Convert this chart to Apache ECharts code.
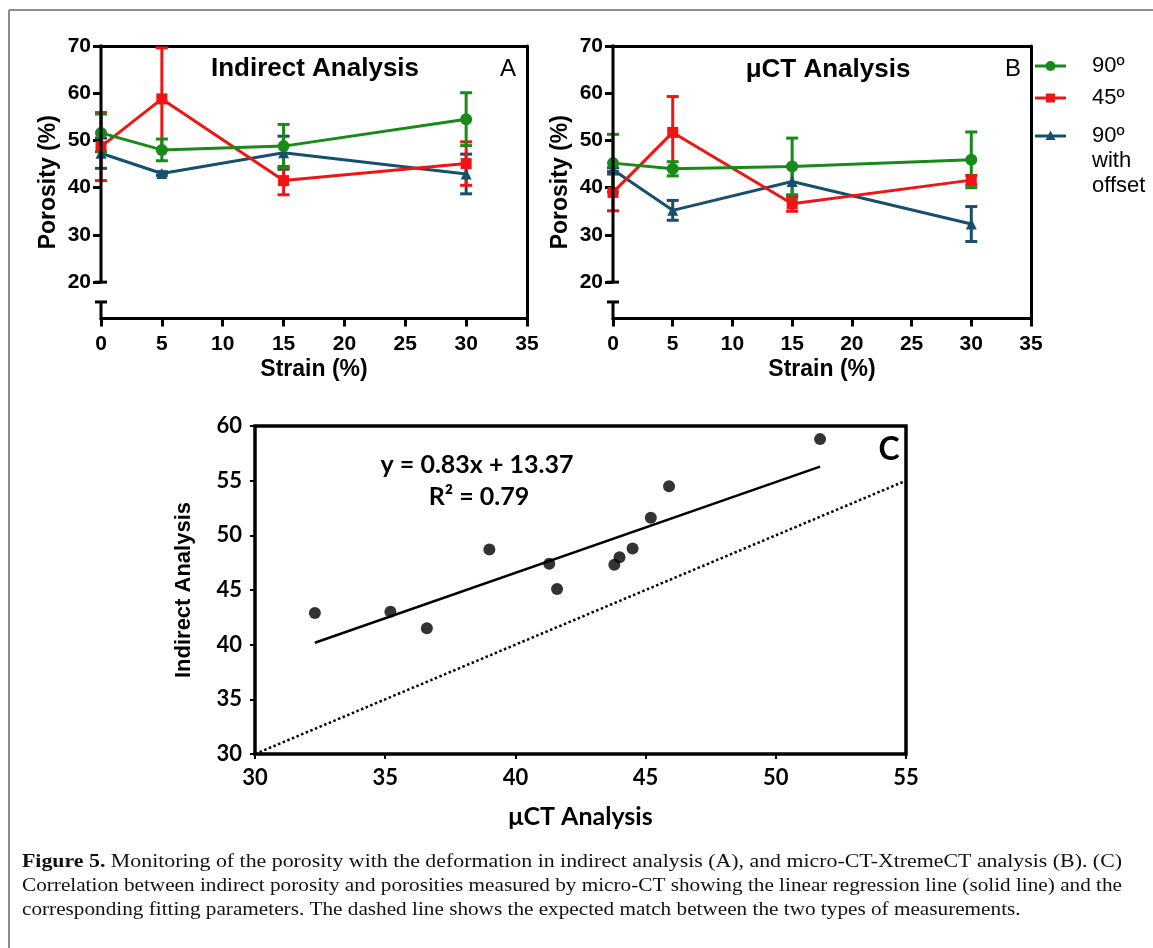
<!DOCTYPE html>
<html>
<head>
<meta charset="utf-8">
<title>Figure 5</title>
<script src="https://cdn.jsdelivr.net/npm/echarts@6/dist/echarts.min.js"></script>
<style>
  html, body { margin: 0; padding: 0; background: #fff; }
  #main { width: 1153px; height: 948px; }
</style>
</head>
<body>
<div id="main"></div>
<script>
// ---- data ----
var strain = [0, 5, 15, 30];
var seriesNames = ['90º', '45º', '90º with offset'];
var yTicks = [20, 30, 40, 50, 60, 70];

// panel A - indirect analysis (porosity %, mean and error)
var indirect90 = [51.6, 48.0, 48.8, 54.5];
var indirect45 = [48.7, 58.8, 41.5, 45.1];
var indirectOff = [47.3, 43.0, 47.4, 42.9];
var indirect90Err = [4.0, 2.3, 4.6, 5.6];
var indirect45Err = [7.2, 10.8, 3.0, 4.6];
var indirectOffErr = [3.2, 0.4, 3.5, 4.2];

// panel B - micro-CT analysis
var ct90 = [45.2, 44.0, 44.5, 45.9];
var ct45 = [39.0, 51.7, 36.6, 41.6];
var ctOff = [43.8, 35.2, 41.3, 32.3];
var ct90Err = [6.1, 1.5, 6.0, 5.9];
var ct45Err = [3.9, 7.6, 1.6, 1.0];
var ctOffErr = [0.4, 2.1, 3.3, 3.7];

// panel C - linear fit
var fitSlope = 0.83;
var fitIntercept = 13.37;
var fitR2 = 0.79;
var fitRange = [32.3, 51.7];
var identityRange = [30, 55];

var captionLines = [
  'Monitoring of the porosity with the deformation in indirect analysis (A), and micro-CT-XtremeCT analysis (B). (C)',
  'Correlation between indirect porosity and porosities measured by micro-CT showing the linear regression line (solid line) and the',
  'corresponding fitting parameters. The dashed line shows the expected match between the two types of measurements.'
];

// ---- style ----
var green = '#178a17', red = '#f01414', blue = '#17506b';
var sans = '"Liberation Sans", Arial, sans-serif';
var narrow = 'Lato, "DejaVu Sans Condensed", sans-serif';
var lw = 3;
var yMin = 12.3;      // bottom of broken axis
var breakAt = 15.8;   // lower stub of the axis break

var chart = echarts.init(document.getElementById('main'));

function strainAxis(grid) {
  return {
    gridIndex: grid, type: 'value', min: 0, max: 35, interval: 5,
    name: 'Strain (%)', nameLocation: 'middle', nameGap: 40,
    nameTextStyle: { fontFamily: sans, fontWeight: 'bold', fontSize: 23, color: '#000' },
    axisLine: { onZero: false, lineStyle: { color: '#000', width: lw } },
    axisTick: { length: 8, lineStyle: { color: '#000', width: lw } },
    axisLabel: { margin: 15, fontFamily: sans, fontWeight: 'bold', fontSize: 21, color: '#000' },
    splitLine: { show: false }
  };
}
function porosityAxis(grid) {
  return {
    gridIndex: grid, type: 'value', min: yMin, max: 70,
    name: 'Porosity (%)', nameLocation: 'middle', nameGap: 41,
    nameTextStyle: { fontFamily: sans, fontWeight: 'bold', fontSize: 23, color: '#000' },
    axisLine: { show: false },
    axisTick: { customValues: yTicks, length: 8, lineStyle: { color: '#000', width: lw } },
    axisLabel: { customValues: yTicks, margin: 10, fontFamily: sans, fontWeight: 'bold', fontSize: 21, color: '#000' },
    splitLine: { show: false }
  };
}
// plain lines closing the box on top / right
function frameX(grid) {
  return {
    gridIndex: grid, type: 'value', position: 'top', min: 0, max: 35,
    axisLine: { onZero: false, lineStyle: { color: '#000', width: lw } },
    axisTick: { show: false }, axisLabel: { show: false }, splitLine: { show: false }
  };
}
function frameY(grid) {
  return {
    gridIndex: grid, type: 'value', position: 'right', min: yMin, max: 70,
    axisLine: { onZero: false, lineStyle: { color: '#000', width: lw } },
    axisTick: { show: false }, axisLabel: { show: false }, splitLine: { show: false }
  };
}

function lineSeries(name, vals, color, symbol, axis) {
  return {
    type: 'line', name: name, xAxisIndex: axis.x, yAxisIndex: axis.y, z: 4,
    data: strain.map(function (s, i) { return [s, vals[i]]; }),
    symbol: symbol, symbolSize: symbol === 'circle' ? 12 : 11,
    itemStyle: { color: color },
    lineStyle: { color: color, width: lw }
  };
}
function errorSeries(name, vals, errs, color, axis) {
  return {
    type: 'custom', name: name, xAxisIndex: axis.x, yAxisIndex: axis.y, z: 3,
    data: strain.map(function (s, i) { return [s, vals[i] - errs[i], vals[i] + errs[i]]; }),
    renderItem: function (params, api) {
      var lo = api.coord([api.value(0), api.value(1)]);
      var hi = api.coord([api.value(0), api.value(2)]);
      var w = 6;
      var st = { stroke: color, lineWidth: lw };
      return {
        type: 'group', children: [
          { type: 'line', shape: { x1: lo[0], y1: lo[1], x2: hi[0], y2: hi[1] }, style: st },
          { type: 'line', shape: { x1: lo[0] - w, y1: lo[1], x2: lo[0] + w, y2: lo[1] }, style: st },
          { type: 'line', shape: { x1: hi[0] - w, y1: hi[1], x2: hi[0] + w, y2: hi[1] }, style: st }
        ]
      };
    }
  };
}

var axA = { x: 0, y: 0 }, axB = { x: 2, y: 2 };
var series = [
  errorSeries(seriesNames[2], indirectOff, indirectOffErr, blue, axA),
  errorSeries(seriesNames[1], indirect45, indirect45Err, red, axA),
  errorSeries(seriesNames[0], indirect90, indirect90Err, green, axA),
  lineSeries(seriesNames[2], indirectOff, blue, 'triangle', axA),
  lineSeries(seriesNames[1], indirect45, red, 'rect', axA),
  lineSeries(seriesNames[0], indirect90, green, 'circle', axA),
  errorSeries(seriesNames[2], ctOff, ctOffErr, blue, axB),
  errorSeries(seriesNames[1], ct45, ct45Err, red, axB),
  errorSeries(seriesNames[0], ct90, ct90Err, green, axB),
  lineSeries(seriesNames[2], ctOff, blue, 'triangle', axB),
  lineSeries(seriesNames[1], ct45, red, 'rect', axB),
  lineSeries(seriesNames[0], ct90, green, 'circle', axB)
];

// panel C: each point is (micro-CT, indirect) for the same sample
var pairs = [];
[[ct90, indirect90], [ct45, indirect45], [ctOff, indirectOff]].forEach(function (p) {
  p[0].forEach(function (v, i) { pairs.push([v, p[1][i]]); });
});
series.push({
  type: 'line', xAxisIndex: 4, yAxisIndex: 4, showSymbol: false, z: 2,
  data: identityRange.map(function (v) { return [v, v]; }),
  lineStyle: { color: '#000', width: 2.5, type: [2.5, 2.5] }
});
series.push({
  type: 'line', xAxisIndex: 4, yAxisIndex: 4, showSymbol: false, z: 2,
  data: fitRange.map(function (v) { return [v, fitSlope * v + fitIntercept]; }),
  lineStyle: { color: '#000', width: 2.5 }
});
series.push({
  type: 'scatter', xAxisIndex: 4, yAxisIndex: 4, z: 3,
  data: pairs, symbolSize: 12, itemStyle: { color: '#000' }
});

var option = {
  animation: false,
  backgroundColor: '#fff',
  grid: [
    { left: 101, top: 46, width: 426, height: 272.5 },
    { left: 613, top: 46, width: 418, height: 272.5 },
    { left: 255, top: 426, width: 651, height: 328, show: true, borderColor: '#000', borderWidth: 3.5 }
  ],
  xAxis: [
    strainAxis(0), frameX(0), strainAxis(1), frameX(1),
    {
      gridIndex: 2, type: 'value', min: 30, max: 55, interval: 5,
      name: 'μCT Analysis', nameLocation: 'middle', nameGap: 50,
      nameTextStyle: { fontFamily: narrow, fontWeight: 'bold', fontSize: 25, color: '#000' },
      axisLine: { show: false },
      axisTick: { length: 5, lineStyle: { color: '#000', width: 2 } },
      axisLabel: { margin: 13, fontFamily: narrow, fontWeight: 'bold', fontSize: 22, color: '#000' },
      splitLine: { show: false }
    }
  ],
  yAxis: [
    porosityAxis(0), frameY(0), porosityAxis(1), frameY(1),
    {
      gridIndex: 2, type: 'value', min: 30, max: 60, interval: 5,
      name: 'Indirect Analysis', nameLocation: 'middle', nameGap: 60,
      nameTextStyle: { fontFamily: sans, fontWeight: 'bold', fontSize: 22, color: '#000' },
      axisLine: { show: false },
      axisTick: { length: 5, lineStyle: { color: '#000', width: 2 } },
      axisLabel: { margin: 13, fontFamily: narrow, fontWeight: 'bold', fontSize: 22, color: '#000' },
      splitLine: { show: false }
    }
  ],
  series: series
};
chart.setOption(option);

// ---- extra drawing: broken y axes, panel texts, legend, caption ----
var g = [];
function seg(x1, y1, x2, y2, color, w) {
  g.push({ type: 'line', silent: true, z: 10, shape: { x1: x1, y1: y1, x2: x2, y2: y2 },
    style: { stroke: color || '#000', lineWidth: w || lw } });
}
function txt(x, y, text, font, align) {
  g.push({ type: 'text', silent: true, z: 10, x: x, y: y,
    style: { text: text, font: font, fill: '#000', align: align || 'center', verticalAlign: 'middle' } });
}

[0, 1].forEach(function (gi) {
  var top = chart.convertToPixel({ gridIndex: gi }, [0, 70]);
  var p20 = chart.convertToPixel({ gridIndex: gi }, [0, 20]);
  var pb = chart.convertToPixel({ gridIndex: gi }, [0, breakAt]);
  var bot = chart.convertToPixel({ gridIndex: gi }, [0, yMin]);
  seg(top[0], top[1] - 1.5, p20[0], p20[1]);
  seg(p20[0] - 6, p20[1], p20[0] + 6, p20[1]);
  seg(pb[0] - 6, pb[1], pb[0] + 6, pb[1]);
  seg(pb[0], pb[1], bot[0], bot[1] + 1.5);
});

txt(315, 69, 'Indirect Analysis', 'bold 26px ' + sans);
txt(508, 69, 'A', '24px ' + sans);
txt(828, 70, 'μCT Analysis', 'bold 26px ' + sans);
txt(1013, 69, 'B', '24px ' + sans);

// legend for panels A/B
var legendRows = [
  { y: 66, color: green, symbol: 'circle' },
  { y: 98, color: red, symbol: 'rect' },
  { y: 136, color: blue, symbol: 'triangle' }
];
legendRows.forEach(function (r) {
  seg(1035, r.y, 1066, r.y, r.color, lw);
  if (r.symbol === 'circle') {
    g.push({ type: 'circle', silent: true, z: 10, shape: { cx: 1050.5, cy: r.y, r: 5 }, style: { fill: r.color } });
  } else if (r.symbol === 'rect') {
    g.push({ type: 'rect', silent: true, z: 10, shape: { x: 1046, y: r.y - 4.5, width: 9, height: 9 }, style: { fill: r.color } });
  } else {
    g.push({ type: 'polygon', silent: true, z: 10, shape: { points: [[1050.5, r.y - 5.5], [1055.5, r.y + 4], [1045.5, r.y + 4]] }, style: { fill: r.color } });
  }
});
txt(1092, 66, seriesNames[0], '22px ' + sans, 'left');
txt(1092, 98, seriesNames[1], '22px ' + sans, 'left');
txt(1092, 136, '90º', '22px ' + sans, 'left');
txt(1092, 161, 'with', '22px ' + sans, 'left');
txt(1092, 186, 'offset', '22px ' + sans, 'left');

// panel C annotations
txt(889, 450, 'C', 'bold 32px ' + narrow);
txt(477, 465, 'y = ' + fitSlope.toFixed(2) + 'x + ' + fitIntercept.toFixed(2), 'bold 25px ' + narrow);
txt(479, 497, 'R² = ' + fitR2.toFixed(2), 'bold 25px ' + narrow);

// figure frame
seg(9, 10, 1153, 10, '#8c8c8c', 2);
seg(9, 10, 9, 948, '#8c8c8c', 2);

// caption, squeezed horizontally like the journal typeface; first two lines justified
var capSize = 19;
var capFont = capSize + 'px "Liberation Serif"';
var ctx = document.createElement('canvas').getContext('2d');
ctx.font = 'bold ' + capFont;
var boldW = ctx.measureText('Figure 5. ').width;
ctx.font = capFont;
var capWidths = [boldW + ctx.measureText(captionLines[0]).width, ctx.measureText(captionLines[1]).width];
var capScales = [1100 / capWidths[0], 1100 / capWidths[1], 1100 / capWidths[1]];
var capYs = [862, 886, 910];
captionLines.forEach(function (line, i) {
  g.push({ type: 'text', silent: true, z: 10, x: 22, y: capYs[i], scaleX: capScales[i],
    style: { text: i === 0 ? '{b|Figure 5.} ' + line : line, font: capFont,
      fill: '#111', align: 'left', verticalAlign: 'middle',
      rich: { b: { fontWeight: 'bold', fontSize: capSize, fontFamily: '"Liberation Serif"' } } } });
});

chart.setOption({ graphic: g });
</script>
</body>
</html>
